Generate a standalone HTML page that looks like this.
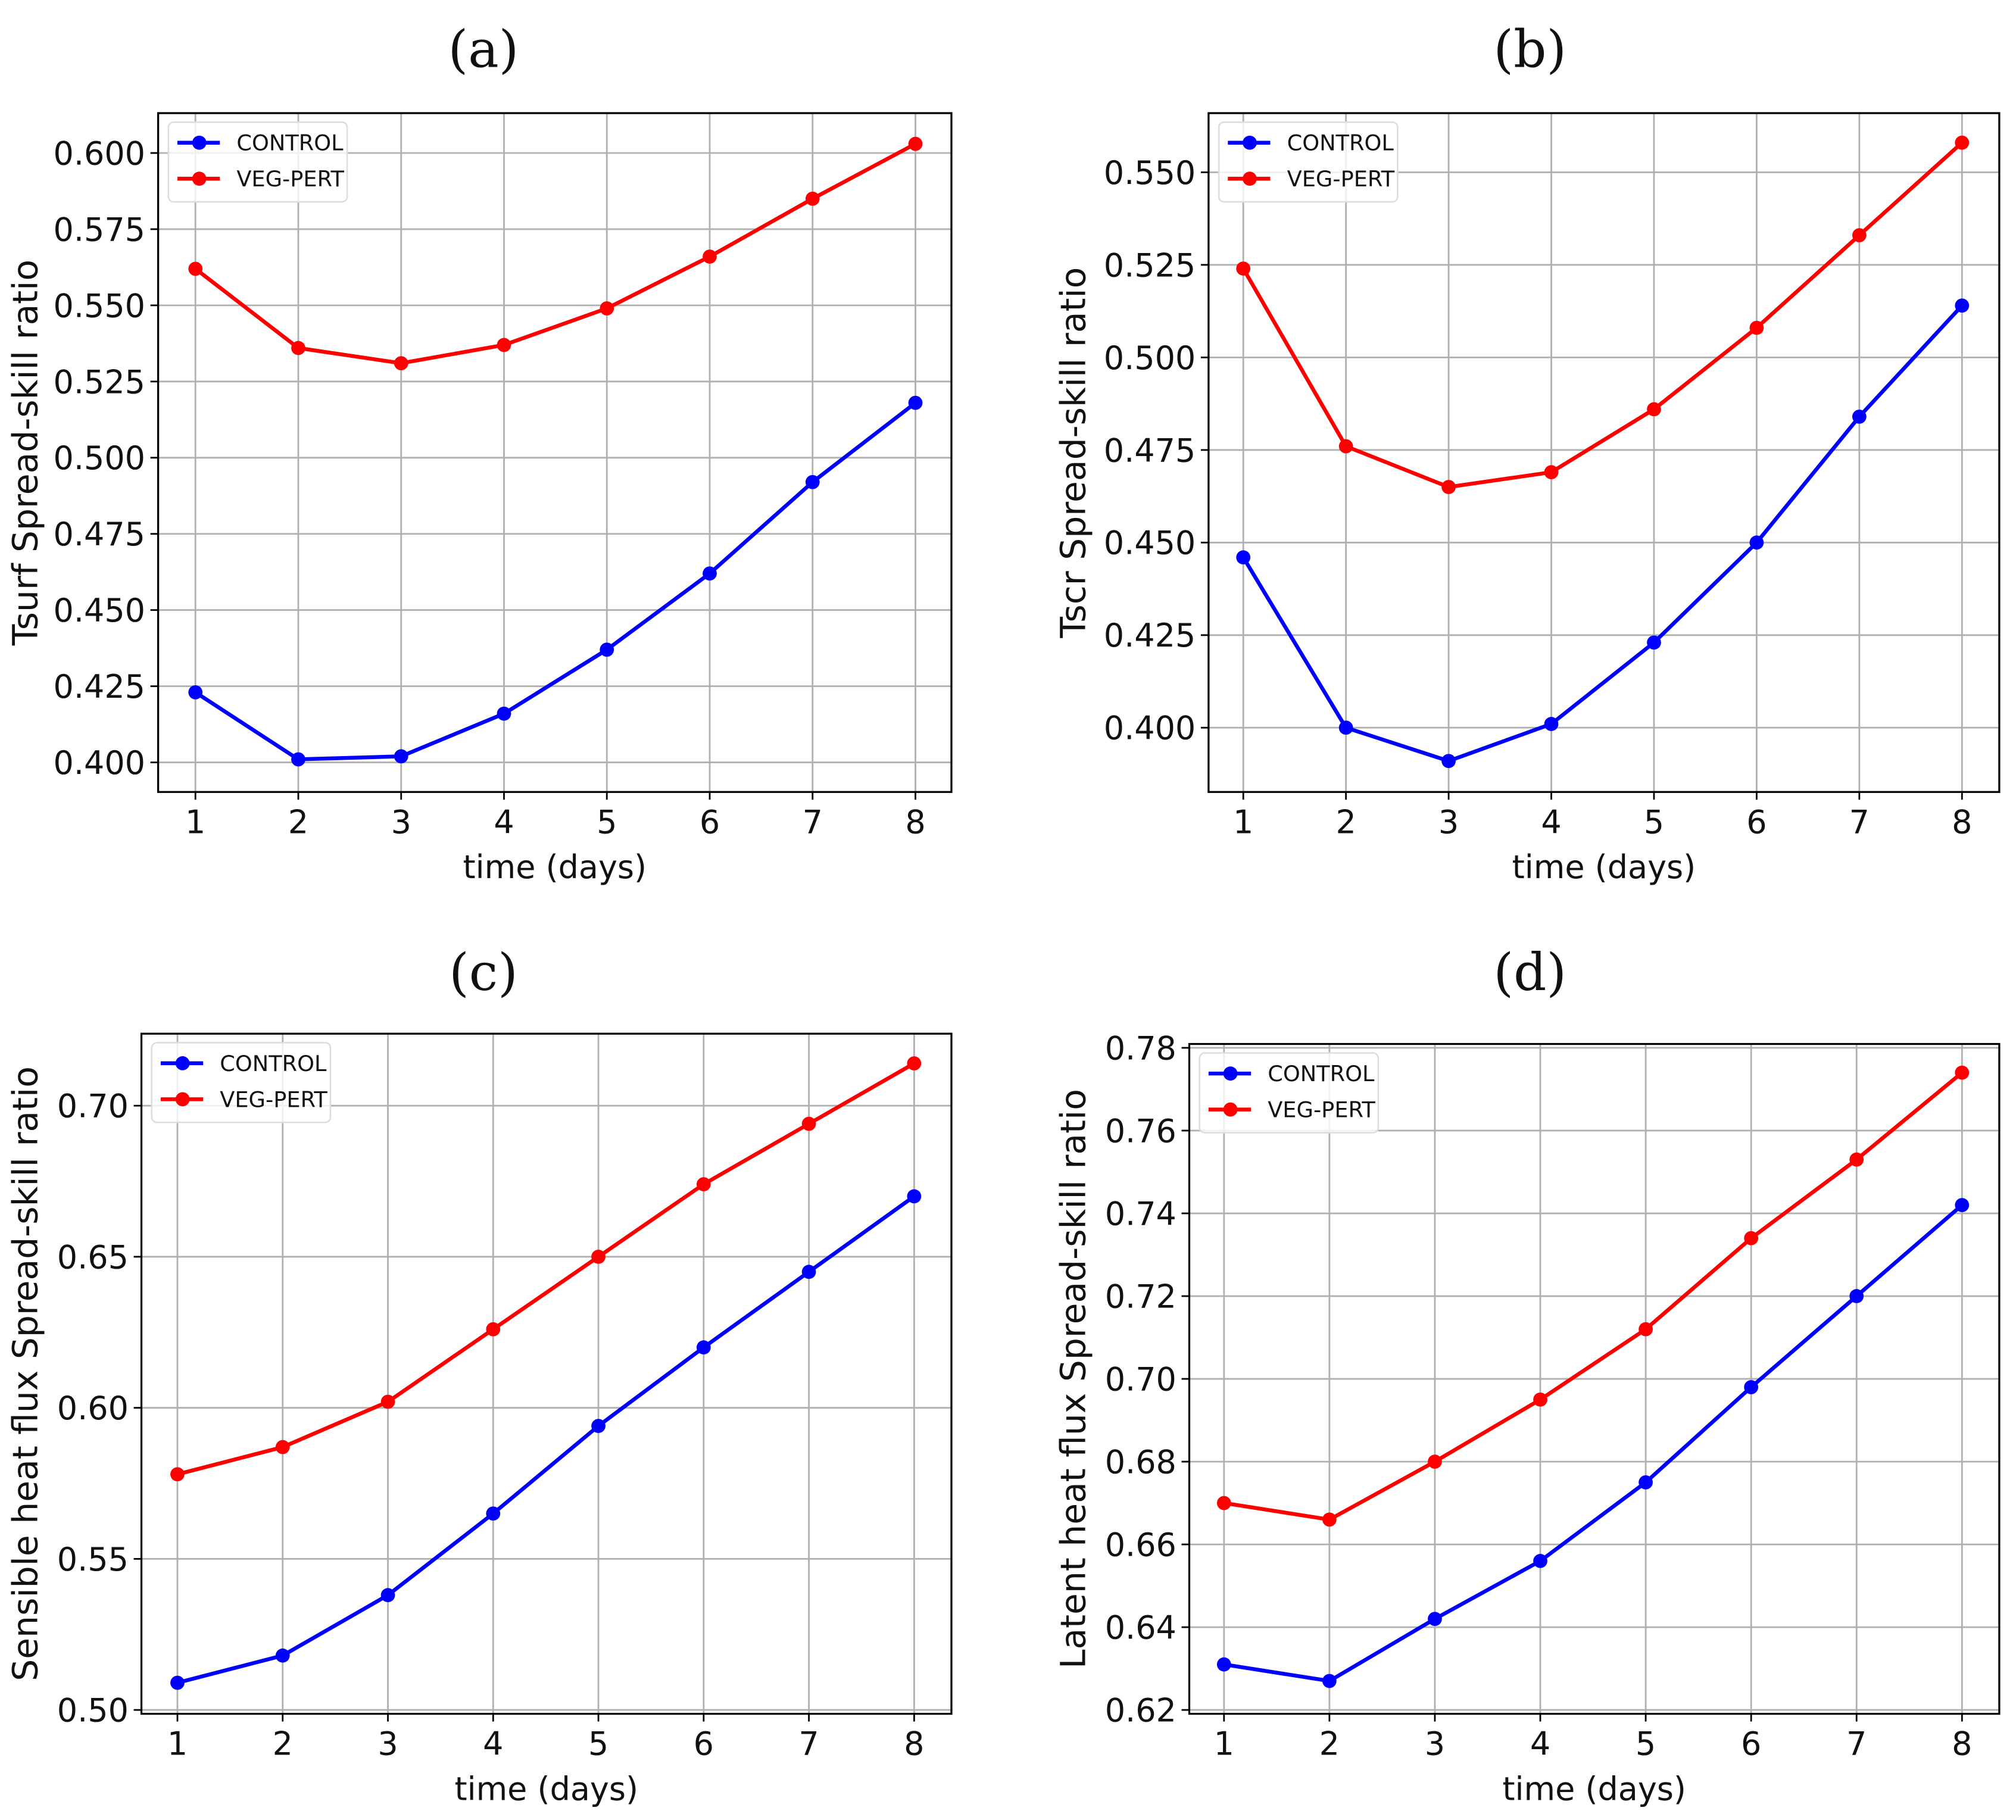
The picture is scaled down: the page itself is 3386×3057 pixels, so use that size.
<!DOCTYPE html>
<html><head><meta charset="utf-8"><style>
html,body{margin:0;padding:0;background:#fff;}
svg{display:block;}
text{font-family:"DejaVu Sans","Liberation Sans",sans-serif;fill:#111;}
.ttl{font-family:"DejaVu Serif","Liberation Serif",serif;}
</style></head><body>
<svg id="fig" xmlns="http://www.w3.org/2000/svg" width="3386" height="3057" viewBox="0 0 1568 1415.6" preserveAspectRatio="none"></svg>
<script>
const days = [1,2,3,4,5,6,7,8];
const seriesNames = ["CONTROL","VEG-PERT"];
const aControl = [0.423,0.401,0.402,0.416,0.437,0.462,0.492,0.518];
const aVeg = [0.562,0.536,0.531,0.537,0.549,0.566,0.585,0.603];
const aTicks = [0.400,0.425,0.450,0.475,0.500,0.525,0.550,0.575,0.600];
const bControl = [0.446,0.400,0.391,0.401,0.423,0.450,0.484,0.514];
const bVeg = [0.524,0.476,0.465,0.469,0.486,0.508,0.533,0.558];
const bTicks = [0.400,0.425,0.450,0.475,0.500,0.525,0.550];
const cControl = [0.509,0.518,0.538,0.565,0.594,0.620,0.645,0.670];
const cVeg = [0.578,0.587,0.602,0.626,0.650,0.674,0.694,0.714];
const cTicks = [0.50,0.55,0.60,0.65,0.70];
const dControl = [0.631,0.627,0.642,0.656,0.675,0.698,0.720,0.742];
const dVeg = [0.670,0.666,0.680,0.695,0.712,0.734,0.753,0.774];
const dTicks = [0.62,0.64,0.66,0.68,0.70,0.72,0.74,0.76,0.78];

const NS="http://www.w3.org/2000/svg";
const svg=document.getElementById('fig');
function mk(tag,attrs,parent){const e=document.createElementNS(NS,tag);for(const k in attrs)e.setAttribute(k,attrs[k]);(parent||svg).appendChild(e);return e;}

function panel(cfg){
  const g=mk('g',{});
  
  
  const {L,R,T,B,x1,x8,yv0,yp0,yv1,yp1,dec}=cfg;
  const X=d=>x1+(d-1)*(x8-x1)/7;
  const Y=v=>yp0+(v-yv0)*(yp1-yp0)/(yv1-yv0);
  const t=mk('text',{x:cfg.tx,y:cfg.ty,'text-anchor':'middle','font-size':40,class:'ttl'},g);
  t.textContent='('+cfg.id+')';
  
  
  days.forEach(d=>{mk('line',{x1:X(d),x2:X(d),y1:T,y2:B,stroke:'#b0b0b0','stroke-width':1.3},g);
    mk('line',{x1:X(d),x2:X(d),y1:B,y2:B+6,stroke:'#000','stroke-width':1.3},g);
    const tl=mk('text',{x:X(d),y:B+32,'text-anchor':'middle','font-size':25},g);tl.textContent=d;
    
    });
  cfg.ticks.forEach(v=>{mk('line',{x1:L,x2:R,y1:Y(v),y2:Y(v),stroke:'#b0b0b0','stroke-width':1.3},g);
    mk('line',{x1:L-6,x2:L,y1:Y(v),y2:Y(v),stroke:'#000','stroke-width':1.3},g);
    const tl=mk('text',{x:L-10,y:Y(v)+9,'text-anchor':'end','font-size':25},g);tl.textContent=v.toFixed(dec);
    
    });
  mk('rect',{x:L,y:T,width:R-L,height:B-T,fill:'none',stroke:'#000','stroke-width':1.5},g);
  const xl=mk('text',{x:(L+R)/2,y:B+67,'text-anchor':'middle','font-size':25},g);xl.textContent='time (days)';
  
  
  const yl=mk('text',{x:0,y:0,'text-anchor':'middle','font-size':27,transform:`translate(${cfg.ylx},${(T+B)/2}) rotate(-90)`},g);yl.textContent=cfg.ylabel;
  
  
  [[cfg.c,'#0000ff'],[cfg.v,'#ff0000']].forEach((s,i)=>{
    const pl=mk('polyline',{points:s[0].map((v,j)=>X(days[j])+','+Y(v)).join(' '),fill:'none',stroke:s[1],'stroke-width':3},g);
    
    
    s[0].forEach((v,j)=>{const c=mk('circle',{cx:X(days[j]),cy:Y(v),r:5.5,fill:s[1]},g);
      
      });
  });
  const lg=mk('g',{},g);
  
  
  const lx=L+8, ly=T+7;
  mk('rect',{x:lx,y:ly,width:139,height:62,rx:4,fill:'#fff','fill-opacity':0.8,stroke:'#ddd','stroke-width':1.2},lg);
  ['#0000ff','#ff0000'].forEach((col,i)=>{
    const yy=ly+16+i*28;
    mk('line',{x1:lx+7,x2:lx+40,y1:yy,y2:yy,stroke:col,'stroke-width':3},lg);
    mk('circle',{cx:lx+24,cy:yy,r:5.5,fill:col},lg);
    const tx=mk('text',{x:lx+53,y:yy+6,'font-size':17},lg);tx.textContent=seriesNames[i];
    
    
  });
}
panel({id:'a',tx:376,ty:52,L:123,R:740,T:88,B:616,x1:152,x8:712,yv0:0.4,yp0:593,yv1:0.6,yp1:119,dec:3,ticks:aTicks,c:aControl,v:aVeg,ylx:29,ylabel:'Tsurf Spread-skill ratio'});
panel({id:'b',tx:1190,ty:52,L:940,R:1555,T:88,B:616,x1:967,x8:1526,yv0:0.4,yp0:566,yv1:0.55,yp1:134,dec:3,ticks:bTicks,c:bControl,v:bVeg,ylx:844,ylabel:'Tscr Spread-skill ratio'});
panel({id:'c',tx:376,ty:770,L:110,R:740,T:804,B:1333,x1:138,x8:711,yv0:0.5,yp0:1330,yv1:0.7,yp1:860,dec:2,ticks:cTicks,c:cControl,v:cVeg,ylx:29,ylabel:'Sensible heat flux Spread-skill ratio'});
panel({id:'d',tx:1190,ty:770,L:925,R:1555,T:812,B:1333,x1:952,x8:1526,yv0:0.62,yp0:1330,yv1:0.78,yp1:815,dec:2,ticks:dTicks,c:dControl,v:dVeg,ylx:844,ylabel:'Latent heat flux Spread-skill ratio'});
</script>
</body></html>
